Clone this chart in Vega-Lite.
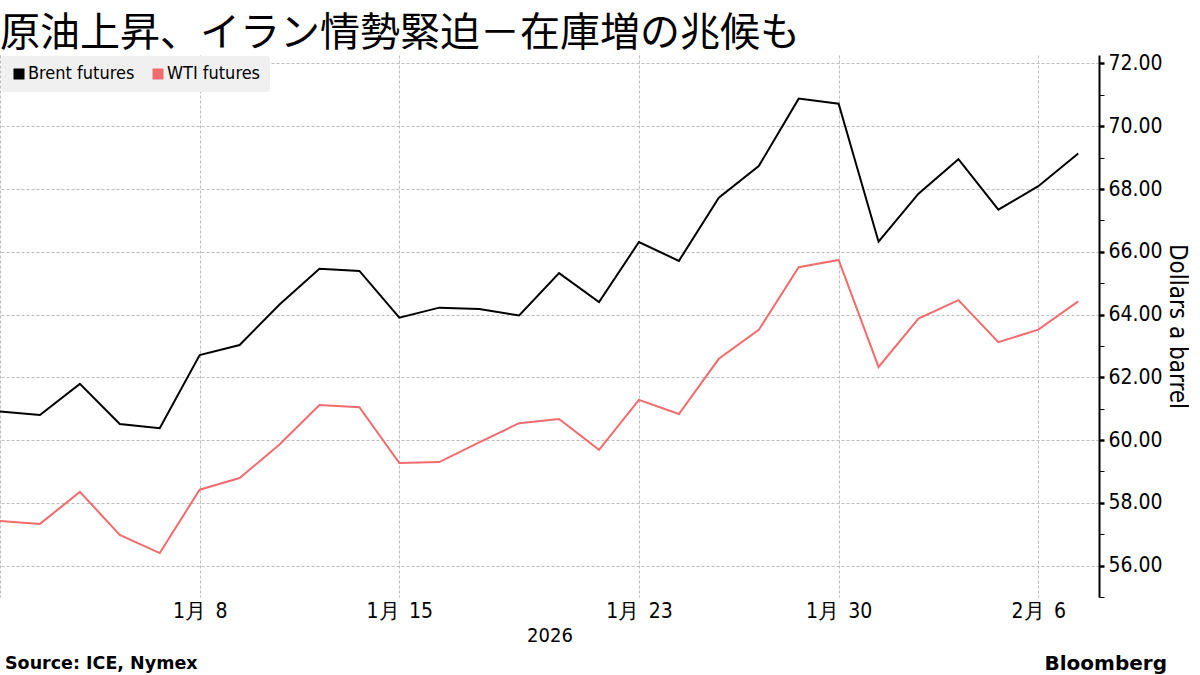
{
  "$schema": "https://vega.github.io/schema/vega-lite/v6.json",
  "background": "white",
  "padding": {"left": 0, "top": 14, "right": 0, "bottom": 0},
  "config": {
    "font": "DejaVu Sans Condensed, DejaVu Sans",
    "view": {"stroke": null},
    "concat": {"spacing": 8}
  },
  "title": {
    "text": "原油上昇、イラン情勢緊迫－在庫増の兆候も",
    "font": "Noto Sans CJK JP",
    "fontSize": 40,
    "fontWeight": "normal",
    "color": "black",
    "anchor": "start",
    "frame": "group",
    "offset": 1,
    "dy": 3
  },
  "datasets": {
    "prices": [
      {"date": "2025-12-31", "i": 0, "series": "Brent futures", "price": 60.91},
      {"date": "2026-01-02", "i": 1, "series": "Brent futures", "price": 60.80},
      {"date": "2026-01-05", "i": 2, "series": "Brent futures", "price": 61.79},
      {"date": "2026-01-06", "i": 3, "series": "Brent futures", "price": 60.51},
      {"date": "2026-01-07", "i": 4, "series": "Brent futures", "price": 60.38},
      {"date": "2026-01-08", "i": 5, "series": "Brent futures", "price": 62.71},
      {"date": "2026-01-09", "i": 6, "series": "Brent futures", "price": 63.03},
      {"date": "2026-01-12", "i": 7, "series": "Brent futures", "price": 64.32},
      {"date": "2026-01-13", "i": 8, "series": "Brent futures", "price": 65.46},
      {"date": "2026-01-14", "i": 9, "series": "Brent futures", "price": 65.39},
      {"date": "2026-01-15", "i": 10, "series": "Brent futures", "price": 63.90},
      {"date": "2026-01-16", "i": 11, "series": "Brent futures", "price": 64.22},
      {"date": "2026-01-19", "i": 12, "series": "Brent futures", "price": 64.18},
      {"date": "2026-01-20", "i": 13, "series": "Brent futures", "price": 63.97},
      {"date": "2026-01-21", "i": 14, "series": "Brent futures", "price": 65.32},
      {"date": "2026-01-22", "i": 15, "series": "Brent futures", "price": 64.40},
      {"date": "2026-01-23", "i": 16, "series": "Brent futures", "price": 66.31},
      {"date": "2026-01-26", "i": 17, "series": "Brent futures", "price": 65.71},
      {"date": "2026-01-27", "i": 18, "series": "Brent futures", "price": 67.72},
      {"date": "2026-01-28", "i": 19, "series": "Brent futures", "price": 68.73},
      {"date": "2026-01-29", "i": 20, "series": "Brent futures", "price": 70.88},
      {"date": "2026-01-30", "i": 21, "series": "Brent futures", "price": 70.72},
      {"date": "2026-02-02", "i": 22, "series": "Brent futures", "price": 66.32},
      {"date": "2026-02-03", "i": 23, "series": "Brent futures", "price": 67.85},
      {"date": "2026-02-04", "i": 24, "series": "Brent futures", "price": 68.95},
      {"date": "2026-02-05", "i": 25, "series": "Brent futures", "price": 67.34},
      {"date": "2026-02-06", "i": 26, "series": "Brent futures", "price": 68.09},
      {"date": "2026-02-09", "i": 27, "series": "Brent futures", "price": 69.13},
      {"date": "2025-12-31", "i": 0, "series": "WTI futures", "price": 57.42},
      {"date": "2026-01-02", "i": 1, "series": "WTI futures", "price": 57.33},
      {"date": "2026-01-05", "i": 2, "series": "WTI futures", "price": 58.35},
      {"date": "2026-01-06", "i": 3, "series": "WTI futures", "price": 56.98},
      {"date": "2026-01-07", "i": 4, "series": "WTI futures", "price": 56.40},
      {"date": "2026-01-08", "i": 5, "series": "WTI futures", "price": 58.42},
      {"date": "2026-01-09", "i": 6, "series": "WTI futures", "price": 58.79},
      {"date": "2026-01-12", "i": 7, "series": "WTI futures", "price": 59.86},
      {"date": "2026-01-13", "i": 8, "series": "WTI futures", "price": 61.12},
      {"date": "2026-01-14", "i": 9, "series": "WTI futures", "price": 61.05},
      {"date": "2026-01-15", "i": 10, "series": "WTI futures", "price": 59.27},
      {"date": "2026-01-16", "i": 11, "series": "WTI futures", "price": 59.30},
      {"date": "2026-01-19", "i": 12, "series": "WTI futures", "price": 59.93},
      {"date": "2026-01-20", "i": 13, "series": "WTI futures", "price": 60.54},
      {"date": "2026-01-21", "i": 14, "series": "WTI futures", "price": 60.67},
      {"date": "2026-01-22", "i": 15, "series": "WTI futures", "price": 59.69},
      {"date": "2026-01-23", "i": 16, "series": "WTI futures", "price": 61.28},
      {"date": "2026-01-26", "i": 17, "series": "WTI futures", "price": 60.83},
      {"date": "2026-01-27", "i": 18, "series": "WTI futures", "price": 62.59},
      {"date": "2026-01-28", "i": 19, "series": "WTI futures", "price": 63.51},
      {"date": "2026-01-29", "i": 20, "series": "WTI futures", "price": 65.51},
      {"date": "2026-01-30", "i": 21, "series": "WTI futures", "price": 65.74},
      {"date": "2026-02-02", "i": 22, "series": "WTI futures", "price": 62.33},
      {"date": "2026-02-03", "i": 23, "series": "WTI futures", "price": 63.87},
      {"date": "2026-02-04", "i": 24, "series": "WTI futures", "price": 64.46},
      {"date": "2026-02-05", "i": 25, "series": "WTI futures", "price": 63.12},
      {"date": "2026-02-06", "i": 26, "series": "WTI futures", "price": 63.52},
      {"date": "2026-02-09", "i": 27, "series": "WTI futures", "price": 64.42}
    ],
    "footer": [
      {"side": "left", "label": "Source: ICE, Nymex"},
      {"side": "right", "label": "Bloomberg"}
    ]
  },
  "vconcat": [
    {
      "width": 1099,
      "height": 542,
      "data": {"name": "prices"},
      "mark": {"type": "line", "strokeWidth": 2, "clip": true},
      "encoding": {
        "x": {
          "field": "i",
          "type": "quantitative",
          "scale": {"domain": [0, 27.52], "nice": false, "zero": false},
          "axis": {
            "values": [0, 5, 10, 16, 21, 26],
            "labelExpr": "datum.value == 5 ? '1月\u20028' : datum.value == 10 ? '1月\u200215' : datum.value == 16 ? '1月\u200223' : datum.value == 21 ? '1月\u200230' : datum.value == 26 ? '2月\u20026' : ''",
            "domain": false,
            "ticks": false,
            "tickSize": 0,
            "grid": true,
            "gridColor": "#bdbdbd",
            "gridDash": [3, 2],
            "gridWidth": 1,
            "labelFontSize": 21,
            "labelColor": "black",
            "labelPadding": 3,
            "labelFlush": false,
            "labelOverlap": false,
            "title": "2026",
            "titleFontSize": 20,
            "titleFontWeight": "normal",
            "titleColor": "black",
            "titlePadding": 4
          }
        },
        "y": {
          "field": "price",
          "type": "quantitative",
          "scale": {"domain": [55, 72.27], "nice": false, "zero": false},
          "axis": {
            "orient": "right",
            "values": [55, 56, 57, 58, 59, 60, 61, 62, 63, 64, 65, 66, 67, 68, 69, 70, 71, 72],
            "labelExpr": "datum.value % 2 == 0 ? format(datum.value, '.2f') : ''",
            "grid": true,
            "gridColor": "#bdbdbd",
            "gridDash": [3, 2],
            "gridOpacity": {"condition": {"test": "datum.value % 2 == 0", "value": 1}, "value": 0},
            "domain": true,
            "domainColor": "black",
            "domainWidth": 2,
            "ticks": true,
            "tickColor": "black",
            "tickSize": 5,
            "tickWidth": {"condition": {"test": "datum.value % 2 == 0", "value": 2.5}, "value": 1},
            "labelFontSize": 21,
            "labelColor": "black",
            "labelPadding": 4,
            "labelOverlap": false,
            "labelFlush": false,
            "title": "Dollars a barrel",
            "titleFontSize": 24,
            "titleFontWeight": "normal",
            "titleColor": "black",
            "titlePadding": 2
          }
        },
        "color": {
          "field": "series",
          "type": "nominal",
          "scale": {"domain": ["Brent futures", "WTI futures"], "range": ["#000000", "#f26b6e"]},
          "legend": {
            "title": null,
            "orient": "top-left",
            "direction": "horizontal",
            "offset": 1,
            "padding": 9,
            "fillColor": "#f0f0f0",
            "cornerRadius": 3,
            "symbolType": "square",
            "symbolSize": 121,
            "symbolStrokeWidth": 0,
            "labelFontSize": 18,
            "labelColor": "black",
            "labelOffset": 0,
            "columnPadding": 14,
            "encode": {"symbols": {"update": {"fill": {"scale": "color", "field": "value"}, "fillOpacity": {"value": 1}}}}
          }
        }
      }
    },
    {
      "width": 1167,
      "height": 22,
      "data": {"name": "footer"},
      "layer": [
        {
          "transform": [{"filter": "datum.side == 'left'"}],
          "mark": {"type": "text", "align": "left", "baseline": "middle", "fontWeight": "bold", "fontSize": 17.5, "font": "DejaVu Sans", "dx": 5, "color": "black"},
          "encoding": {
            "x": {"field": "side", "type": "nominal", "scale": {"type": "point", "domain": ["left", "right"], "padding": 0}, "axis": null},
            "text": {"field": "label"}
          }
        },
        {
          "transform": [{"filter": "datum.side == 'right'"}],
          "mark": {"type": "text", "align": "right", "baseline": "middle", "fontWeight": "bold", "fontSize": 20, "font": "DejaVu Sans", "color": "black"},
          "encoding": {
            "x": {"field": "side", "type": "nominal", "scale": {"type": "point", "domain": ["left", "right"], "padding": 0}, "axis": null},
            "text": {"field": "label"}
          }
        }
      ]
    }
  ]
}
